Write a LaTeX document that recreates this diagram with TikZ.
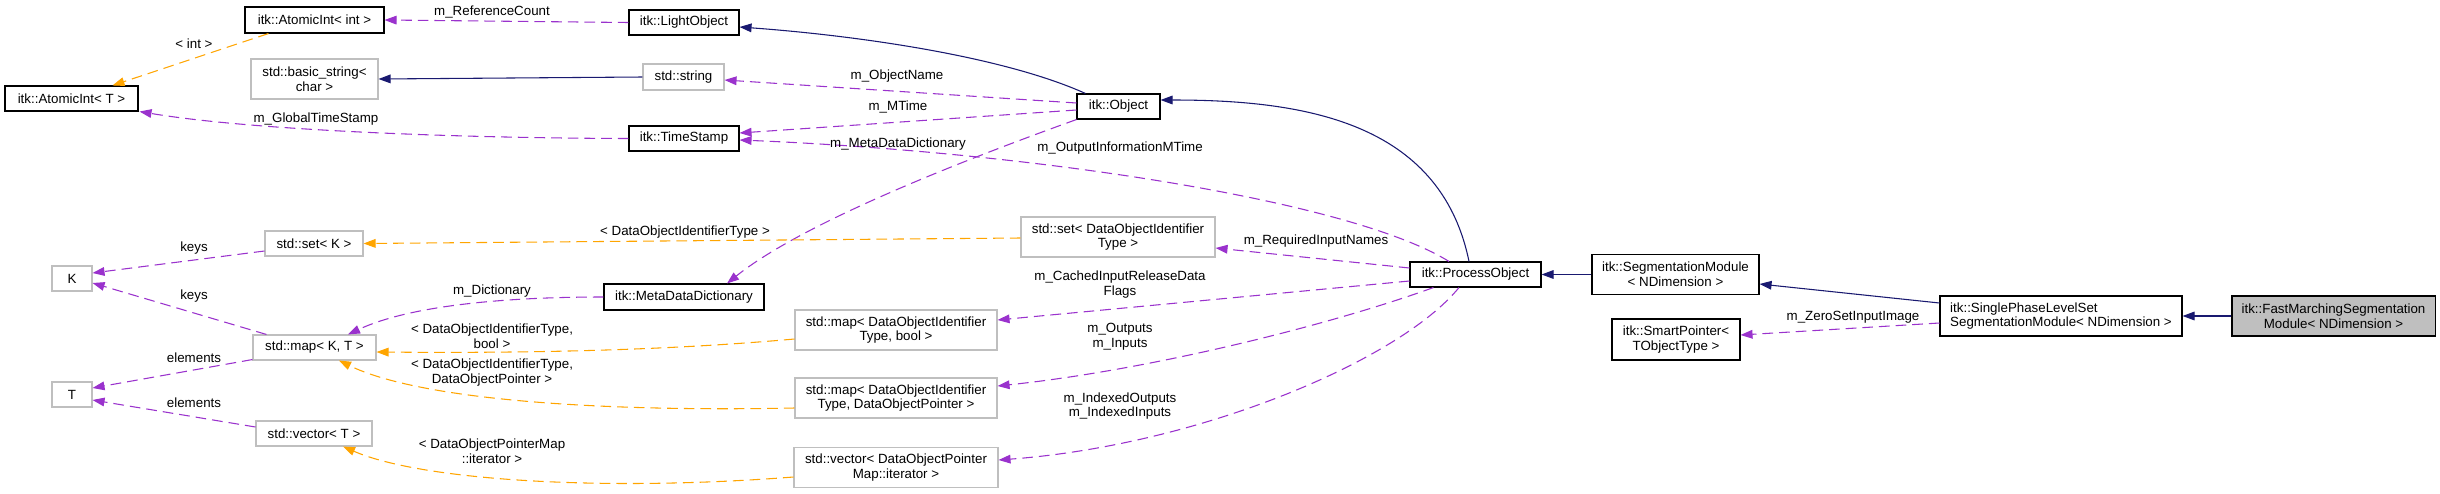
\documentclass[tikz,border=0pt]{standalone}
\usepackage{fontspec}
\setmainfont{Liberation Sans}
\usetikzlibrary{calc,arrows.meta}
\definecolor{dorchid}{HTML}{9A32CD}
\definecolor{dorange}{HTML}{FFA500}
\definecolor{mnblue}{HTML}{191970}
\definecolor{greyb}{HTML}{BFBFBF}
\tikzset{
  cls/.style={draw=black, line width=0.8pt, inner sep=0pt, align=center, font=\fontsize{10}{11}\selectfont},
  ext/.style={cls, draw=greyb},
  bx/.style 2 args={minimum width=#1*0.75pt, minimum height=#2*0.75pt},
  tip/.style={-{Triangle[length=9pt,width=6.5pt]}},
  mem/.style={draw=dorchid, line width=0.8pt, dash pattern=on 8pt off 4.5pt, tip},
  tpl/.style={draw=dorange, line width=0.8pt, dash pattern=on 8pt off 4.5pt, tip},
  inh/.style={draw=mnblue, line width=0.8pt, tip},
  lbl/.style={inner sep=0pt, align=center, font=\fontsize{10}{11}\selectfont}
}
\begin{document}
\begin{tikzpicture}[x=0.75pt,y=-0.75pt]
\fill[white] (0,0) rectangle (2440,493);
\useasboundingbox (0,0) rectangle (2440,493);

% nodes
\node[cls,bx={139}{26}] (aint) at (314.5,20) {itk::AtomicInt< int >};
\node[cls,bx={110}{25}] (lobj) at (684,22.5) {itk::LightObject};
\node[ext,bx={127}{40}] (bstr) at (314.5,79) {std::basic\_string<\\char >};
\node[ext,bx={81}{26}] (sstr) at (683.5,77) {std::string};
\node[cls,bx={133}{25}] (aintT) at (71.5,98.5) {itk::AtomicInt< T >};
\node[cls,bx={110}{25}] (tstamp) at (684,138.5) {itk::TimeStamp};
\node[cls,bx={83}{25}] (obj) at (1118.5,106.5) {itk::Object};
\node[ext,bx={98}{25}] (setK) at (314,243.5) {std::set< K >};
\node[ext,bx={40}{25}] (K) at (72,278.5) {K};
\node[cls,bx={160}{26}] (mdd) at (684,297) {itk::MetaDataDictionary};
\node[ext,bx={123}{25}] (mapKT) at (314.5,347.5) {std::map< K, T >};
\node[ext,bx={40}{25}] (T) at (72,394.5) {T};
\node[ext,bx={116}{25}] (vecT) at (314,433.5) {std::vector< T >};
\node[ext,bx={194}{40}] (setDOI) at (1118,237) {std::set< DataObjectIdentifier\\Type >};
\node[ext,bx={202}{40}] (mapDOIb) at (896,330) {std::map< DataObjectIdentifier\\Type, bool >};
\node[ext,bx={202}{40}] (mapDOIp) at (896,398) {std::map< DataObjectIdentifier\\Type, DataObjectPointer >};
\node[ext,bx={204}{40}] (vecDOP) at (896,467.5) {std::vector< DataObjectPointer\\Map::iterator >};
\node[cls,bx={131}{25}] (po) at (1475.5,274.5) {itk::ProcessObject};
\node[cls,bx={167}{40}] (segm) at (1675.5,274.5) {itk::SegmentationModule\\< NDimension >};
\node[cls,bx={242}{40},align=left] (sp) at (2061,316) {itk::SinglePhaseLevelSet\\SegmentationModule< NDimension >};
\node[cls,bx={203}{40},fill=greyb] (fm) at (2333.5,316) {itk::FastMarchingSegmentation\\Module< NDimension >};
\node[cls,bx={128}{41}] (smart) at (1676,339.5) {itk::SmartPointer<\\TObjectType >};

% edges
\draw[mem] (lobj.west) -- (aint.east);
\draw[tpl] ($(aint.south west)+(24,0)$) -- ($(aintT.north)+(41,0)$);
\draw[inh] (sstr.west) -- (bstr.east);
\draw[mem] (tstamp.west) .. controls (450,138) and (250,130) .. ($(aintT.south east)+(1,0)$);
\draw[inh] ($(obj.north west)+(9,0)$) .. controls (1000,55) and (850,35) .. ($(lobj.east)+(0,4.5)$);
\draw[mem] ($(obj.west)+(0,-3.5)$) -- ($(sstr.east)+(0,3)$);
\draw[mem] ($(obj.west)+(0,3.5)$) -- ($(tstamp.east)+(0,-5.5)$);
\draw[mem] ($(po.north)+(-26.5,0)$) .. controls (1350,200) and (1030,152) .. ($(tstamp.east)+(0,1.5)$);
\draw[inh] ($(po.north)+(-6.5,0)$) .. controls (1440,120) and (1300,100) .. ($(obj.east)+(0,-6.5)$);
\draw[mem] (obj.south west) .. controls (950,165) and (800,225) .. ($(mdd.north)+(43,0)$);
\draw[tpl] ($(setDOI.west)+(0,1)$) -- (setK.east);
\draw[mem] ($(po.west)+(0,-6.5)$) -- ($(setDOI.east)+(0,11)$);
\draw[mem] ($(setK.west)+(0,7.5)$) -- ($(K.east)+(0,-5.5)$);
\draw[mem] ($(mapKT.north west)+(14,0)$) -- ($(K.east)+(0,4.5)$);
\draw[mem] (mdd.west) .. controls (480,297) and (400,310) .. ($(mapKT.north)+(33.5,0)$);
\draw[tpl] ($(mapDOIb.west)+(0,9)$) .. controls (650,352) and (500,353) .. ($(mapKT.east)+(0,4.5)$);
\draw[mem] ($(mapKT.south west)+(0,-1)$) -- ($(T.east)+(0,-6.5)$);
\draw[tpl] ($(mapDOIp.west)+(0,10)$) .. controls (600,412) and (420,400) .. ($(mapKT.south)+(24.5,0)$);
\draw[mem] ($(vecT.west)+(0,-6.5)$) -- ($(T.east)+(0,5.5)$);
\draw[tpl] ($(vecDOP.west)+(0,9.5)$) .. controls (600,492) and (420,480) .. ($(vecT.south)+(29,0)$);
\draw[mem] ($(po.west)+(0,6.5)$) -- ($(mapDOIb.east)+(0,-10)$);
\draw[mem] ($(po.south west)+(24,0)$) .. controls (1330,325) and (1150,370) .. ($(mapDOIp.east)+(0,-12)$);
\draw[mem] ($(po.south)+(-16.5,0)$) .. controls (1400,360) and (1200,445) .. ($(vecDOP.east)+(0,-7.5)$);
\draw[inh] (segm.west) -- (po.east);
\draw[inh] ($(sp.west)+(0,-13)$) -- ($(segm.east)+(0,9.5)$);
\draw[mem] ($(sp.west)+(0,7)$) -- ($(smart.east)+(0,-4.5)$);
\draw[inh] (fm.west) -- (sp.east);

% labels
\node[lbl] (l1) at (492,12) {m\_ReferenceCount};
\node[lbl] (l2) at (194,44) {< int >};
\node[lbl] (l3) at (316,119) {m\_GlobalTimeStamp};
\node[lbl] (l4) at (897,76) {m\_ObjectName};
\node[lbl] (l5) at (898,107) {m\_MTime};
\node[lbl] (l6) at (898,144) {m\_MetaDataDictionary};
\node[lbl] (l7) at (1120,148) {m\_OutputInformationMTime};
\node[lbl] (l8) at (685,232) {< DataObjectIdentifierType >};
\node[lbl] (l9) at (1316,241) {m\_RequiredInputNames};
\node[lbl] (l10) at (194,248) {keys};
\node[lbl] (l11) at (194,296) {keys};
\node[lbl] (l12) at (492,291) {m\_Dictionary};
\node[lbl] (l13) at (492,336.5) {< DataObjectIdentifierType,\\bool >};
\node[lbl] (l14) at (194,358) {elements};
\node[lbl] (l15) at (492,372.5) {< DataObjectIdentifierType,\\DataObjectPointer >};
\node[lbl] (l16) at (194,403) {elements};
\node[lbl] (l17) at (492,451) {< DataObjectPointerMap\\::iterator >};
\node[lbl] (l18) at (1120,284.5) {m\_CachedInputReleaseData\\Flags};
\node[lbl] (l19) at (1120,336.5) {m\_Outputs\\m\_Inputs};
\node[lbl] (l20) at (1120,406) {m\_IndexedOutputs\\m\_IndexedInputs};
\node[lbl] (l21) at (1853,317) {m\_ZeroSetInputImage};
\end{tikzpicture}
\end{document}
